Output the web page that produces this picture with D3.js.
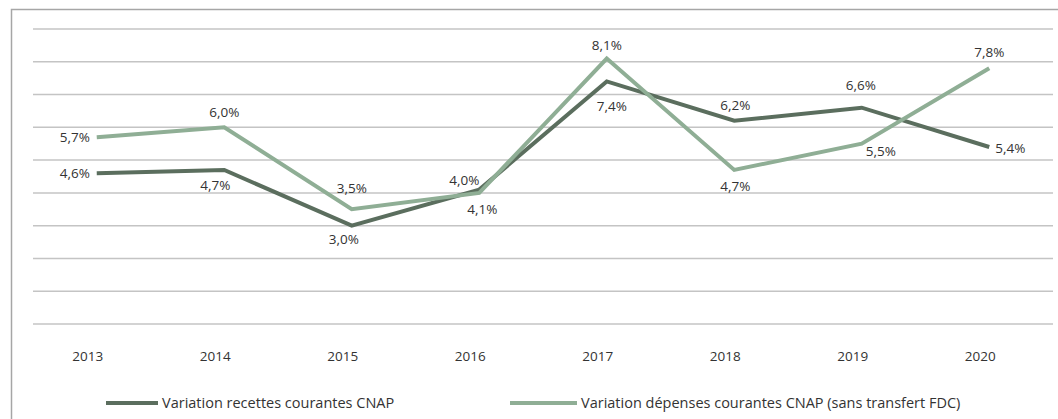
<!DOCTYPE html>
<html>
<head>
<meta charset="utf-8">
<script src="https://cdn.jsdelivr.net/npm/d3@7"></script>
<style>
  body { margin: 0; background: #fff; }
  svg text { font-family: "Open Sans", sans-serif; fill: #333; }
</style>
</head>
<body>
<svg id="chart" width="1058" height="419"></svg>
<script>
// data
const years = ["2013", "2014", "2015", "2016", "2017", "2018", "2019", "2020"];
const recettes = [4.6, 4.7, 3.0, 4.1, 7.4, 6.2, 6.6, 5.4];
const depenses = [5.7, 6.0, 3.5, 4.0, 8.1, 4.7, 5.5, 7.8];
const seriesNames = [
  "Variation recettes courantes CNAP",
  "Variation dépenses courantes CNAP (sans transfert FDC)"
];
const gridTicks = [0, 1, 2, 3, 4, 5, 6, 7, 8, 9];

// label placement, [dx, dy] from the point (text centre)
const recettesLabelPos = [[-22, 0], [-9, 15], [-8, 14], [3, 20], [5, 25], [1, -16], [-1, -22], [21, 1]];
const depensesLabelPos = [[-22, 0], [0, -15], [0, -21], [-15, -13], [0, -13], [1, 16], [19, 8], [0, -16]];

const colors = ["#5b6e5e", "#8fae95"];

const svg = d3.select("#chart");
const margin = { left: 33, right: 5, top: 29, bottom: 95 };
const width = 1058, height = 419;

const x = d3.scaleBand()
  .domain(years)
  .range([margin.left, width - margin.right]);

const y = d3.scaleLinear()
  .domain([0, 9])
  .range([height - margin.bottom, margin.top]);

// outer frame
svg.append("rect")
  .attr("x", 11.5).attr("y", 9.5)
  .attr("width", 1060).attr("height", 420)
  .attr("fill", "none")
  .attr("stroke", "#a6a6a6")
  .attr("stroke-width", 1.5);

// gridlines
svg.append("g")
  .selectAll("line")
  .data(gridTicks)
  .enter().append("line")
  .attr("x1", margin.left)
  .attr("x2", width - margin.right)
  .attr("y1", d => y(d))
  .attr("y2", d => y(d))
  .attr("stroke", "#c4c4c4")
  .attr("stroke-width", 1.5);

// x axis labels
const xAxis = d3.axisBottom(x).tickSize(0).tickPadding(0);
const gx = svg.append("g")
  .attr("transform", `translate(0,${y(0)})`)
  .call(xAxis);
gx.select(".domain").remove();
gx.selectAll("text")
  .attr("dx", -9)
  .attr("y", 32)
  .attr("dy", "0.35em")
  .style("font-size", "13.5px")
  .style("font-family", "Open Sans, sans-serif")
  .attr("fill", "#333");

const cx = d => x(d) + x.bandwidth() / 2;

const line = d3.line()
  .x((d, i) => cx(years[i]))
  .y(d => y(d));

const allSeries = [
  { values: recettes, color: colors[0], pos: recettesLabelPos },
  { values: depenses, color: colors[1], pos: depensesLabelPos }
];

allSeries.forEach(s => {
  svg.append("path")
    .datum(s.values)
    .attr("d", line)
    .attr("fill", "none")
    .attr("stroke", s.color)
    .attr("stroke-width", 4)
    .attr("stroke-linejoin", "miter");
});

const fmt = v => d3.format(".1f")(v).replace(".", ",") + "%";

allSeries.forEach(s => {
  svg.append("g")
    .selectAll("text")
    .data(s.values)
    .enter().append("text")
    .attr("x", (d, i) => cx(years[i]) + s.pos[i][0])
    .attr("y", (d, i) => y(d) + s.pos[i][1])
    .attr("dy", "0.35em")
    .attr("text-anchor", "middle")
    .style("font-size", "13.5px")
    .text(fmt);
});

// legend
const legendItems = [
  { name: seriesNames[0], color: colors[0], x1: 106, x2: 158 },
  { name: seriesNames[1], color: colors[1], x1: 510, x2: 577 }
];
const legendY = 403;
const lg = svg.append("g");
legendItems.forEach(item => {
  lg.append("line")
    .attr("x1", item.x1).attr("x2", item.x2)
    .attr("y1", legendY).attr("y2", legendY)
    .attr("stroke", item.color)
    .attr("stroke-width", 4);
  lg.append("text")
    .attr("x", item.x2 + 4)
    .attr("y", legendY)
    .attr("dy", "0.35em")
    .style("font-size", "14.5px")
    .text(item.name);
});
</script>
</body>
</html>
